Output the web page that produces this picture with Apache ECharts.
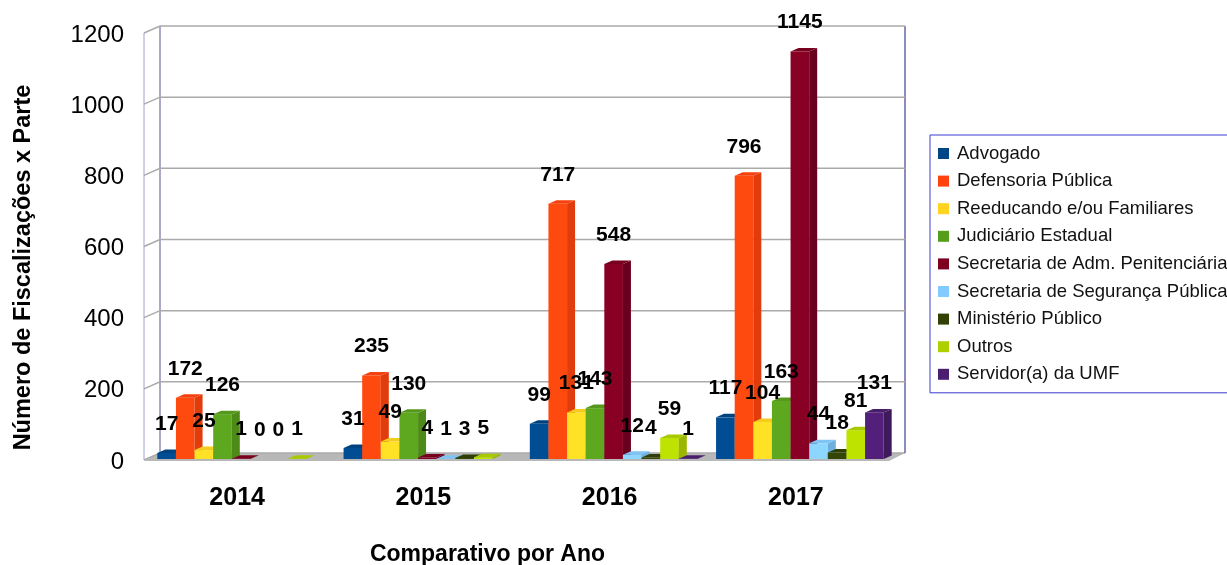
<!DOCTYPE html>
<html>
<head>
<meta charset="utf-8">
<style>
html, body { margin: 0; padding: 0; background: #fff; overflow: hidden; }
#main { width: 1227px; height: 565px; }
</style>
<script src="https://cdn.jsdelivr.net/npm/echarts@6/dist/echarts.min.js"></script>
</head>
<body>
<div id="main"></div>
<script>
var years = ['2014', '2015', '2016', '2017'];
var yTicks = [0, 200, 400, 600, 800, 1000, 1200];

// null = no label and no bar in the picture
var advogado = [17, 31, 99, 117];
var defensoria = [172, 235, 717, 796];
var reeducando = [25, 49, 131, 104];
var judiciario = [126, 130, 143, 163];
var secAdm = [1, 4, 548, 1145];
var secSeguranca = [0, 1, 12, 44];
var ministerio = [0, 3, 4, 18];
var outros = [1, 5, 59, 81];
var servidor = [null, null, 1, 131];

var names = ['Advogado', 'Defensoria Pública', 'Reeducando e/ou Familiares', 'Judiciário Estadual',
	'Secretaria de Adm. Penitenciária', 'Secretaria de Segurança Pública', 'Ministério Público', 'Outros', 'Servidor(a) da UMF'];
var values = [advogado, defensoria, reeducando, judiciario, secAdm, secSeguranca, ministerio, outros, servidor];

// legend colour, then front / side / top of the bar
var legendColors = ['#004586', '#ff420e', '#ffd320', '#579d1c', '#7e0021', '#83caff', '#314004', '#aecf00', '#4b1f6f'];
var frontColors = ['#004d94', '#ff4a0f', '#ffe126', '#5da81e', '#880024', '#8cd6ff', '#354505', '#bfe300', '#521f7a'];
var sideColors = ['#003a70', '#e03c0c', '#e0bc1c', '#4e8a18', '#690020', '#70b0df', '#283403', '#9ab600', '#3e1a5c'];
var topColors = ['#00427f', '#f4410e', '#f4cc1e', '#55981b', '#78001f', '#7fc4f4', '#2f3e04', '#a8c900', '#481e6b'];

var fontName = 'Liberation Sans';
var depthX = 16, depthY = 7; // wall depth
var barDX = 8, barDY = 3.5;  // bar depth

var renderBar = function (idx) {
	return function (params, api) {
		var val = api.value(1);
		var base = api.coord([api.value(0), 0]);
		var top = api.coord([api.value(0), val]);
		var bw = api.size([1, 0])[0] / 10;
		var x = base[0] + 4 + (idx - 4.5) * bw;
		var y0 = base[1] - 1;
		var y1 = top[1] - 1;
		var kids = [];
		if (val > 0) {
			kids.push({
				type: 'rect',
				shape: { x: x, y: y1, width: bw, height: y0 - y1 },
				style: { fill: frontColors[idx] }
			});
			kids.push({
				type: 'polygon',
				shape: { points: [[x + bw, y1], [x + bw + barDX, y1 - barDY], [x + bw + barDX, y0 - barDY], [x + bw, y0]] },
				style: { fill: sideColors[idx] }
			});
			kids.push({
				type: 'polygon',
				shape: { points: [[x, y1], [x + barDX, y1 - barDY], [x + bw + barDX, y1 - barDY], [x + bw, y1]] },
				style: { fill: topColors[idx] }
			});
		}
		kids.push({
			type: 'text',
			z2: 100,
			style: {
				text: String(val),
				x: x + bw / 2,
				y: y1 - 29,
				align: 'center',
				verticalAlign: 'middle',
				fill: '#000',
				font: 'bold 21px "' + fontName + '"'
			}
		});
		return { type: 'group', children: kids };
	};
};

// back wall, side wall and floor, hung on the value axis
var renderFrame = function (params, api) {
	var tick = api.value(1);
	var left = api.coord([0, tick]);
	var bw = api.size([1, 0])[0];
	var x0 = left[0] - bw / 2;
	var x1 = x0 + bw * years.length;
	var y = left[1];
	var kids = [{
		type: 'polyline',
		shape: { points: [[x0, y], [x0 + depthX, y - depthY], [x1 + depthX, y - depthY]] },
		style: { stroke: '#aaaaaa', lineWidth: 1.5, fill: null }
	}];
	if (tick === 0) {
		var ytop = api.coord([0, yTicks[yTicks.length - 1]])[1];
		kids.unshift({
			type: 'polygon',
			shape: { points: [[x0, y + 1], [x0 + depthX, y - depthY], [x1 + depthX, y - depthY], [x1, y + 1]] },
			style: { fill: '#b8b8b8' }
		});
		kids.push({ type: 'line', shape: { x1: x0, y1: y, x2: x0, y2: ytop }, style: { stroke: '#a0a0cc', lineWidth: 1 } });
		kids.push({ type: 'line', shape: { x1: x0 + depthX, y1: y - depthY, x2: x0 + depthX, y2: ytop - depthY }, style: { stroke: '#8c8cc0', lineWidth: 1.5 } });
		kids.push({ type: 'line', shape: { x1: x1 + depthX, y1: y - depthY, x2: x1 + depthX, y2: ytop - depthY }, style: { stroke: '#6666aa', lineWidth: 1.5 } });
	}
	return { type: 'group', children: kids };
};

var series = [{
	type: 'custom',
	silent: true,
	renderItem: renderFrame,
	encode: { x: 0, y: 1 },
	data: yTicks.map(function (t) { return [0, t]; }),
	z: 1
}];
names.forEach(function (name, idx) {
	var rows = [];
	values[idx].forEach(function (v, i) {
		if (v !== null) rows.push([i, v]);
	});
	series.push({
		type: 'custom',
		name: name,
		renderItem: renderBar(idx),
		encode: { x: 0, y: 1 },
		itemStyle: { color: legendColors[idx] },
		data: rows,
		z: 2
	});
});

var myChart = echarts.init(document.getElementById('main'));
var option = {
	animation: false,
	textStyle: { fontFamily: fontName },
	grid: { left: 144, right: 338, top: 33, bottom: 105, outerBoundsMode: 'none' },
	legend: {
		orient: 'vertical',
		left: 930,
		top: 135,
		padding: [9, 6, 9, 8],
		data: names,
		icon: 'rect',
		itemWidth: 11,
		itemHeight: 11,
		itemGap: 8.6,
		selectedMode: false,
		borderColor: '#3a3ad0',
		borderWidth: 1,
		textStyle: { fontFamily: fontName, fontSize: 18.5, color: '#111', padding: [0, 0, 0, 3] }
	},
	xAxis: {
		type: 'category',
		data: years,
		name: 'Comparativo por Ano',
		nameLocation: 'middle',
		nameGap: 83,
		nameTextStyle: { fontFamily: fontName, fontWeight: 'bold', fontSize: 23, color: '#000', padding: [0, 58, 0, 0] },
		axisLine: { show: false },
		axisTick: { show: false },
		axisLabel: { fontFamily: fontName, fontWeight: 'bold', fontSize: 25, color: '#000', margin: 26 }
	},
	yAxis: {
		type: 'value',
		min: 0,
		max: 1200,
		interval: 200,
		name: 'Número de Fiscalizações x Parte',
		nameLocation: 'middle',
		nameGap: 108,
		nameTextStyle: { fontFamily: fontName, fontWeight: 'bold', fontSize: 23.5, color: '#000', padding: [0, 42, 0, 0] },
		axisLine: { show: false },
		axisTick: { show: false },
		splitLine: { show: false },
		axisLabel: { fontFamily: fontName, fontSize: 24, color: '#000', margin: 20, verticalAlign: 'top', lineHeight: 4, formatter: function (v) { return String(v); } }
	},
	series: series
};
myChart.setOption(option);
</script>
</body>
</html>
